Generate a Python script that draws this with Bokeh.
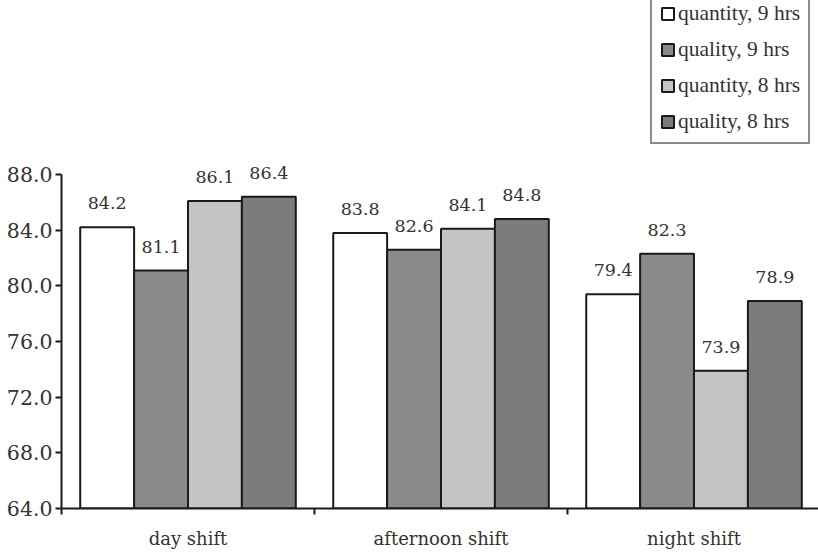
from bokeh.plotting import figure
from bokeh.models import ColumnDataSource, FixedTicker, Legend, LegendItem, Range1d, CustomJSTickFormatter
from bokeh.core.properties import value
from bokeh.embed import file_html
from bokeh.resources import INLINE

# Shift categories and the four series (percent scores)
shifts = ["day shift", "afternoon shift", "night shift"]
series_names = ["quantity, 9 hrs", "quality, 9 hrs", "quantity, 8 hrs", "quality, 8 hrs"]
quantity_9 = [84.2, 83.8, 79.4]
quality_9 = [81.1, 82.6, 82.3]
quantity_8 = [86.1, 84.1, 73.9]
quality_8 = [86.4, 84.8, 78.9]
y_ticks = [64.0, 68.0, 72.0, 76.0, 80.0, 84.0, 88.0]

series_values = [quantity_9, quality_9, quantity_8, quality_8]
fills = ["#ffffff", "#8a8a8a", "#c4c4c4", "#7c7c7c"]

AXIS_FONT = "DejaVu Serif"
LEGEND_FONT = "Liberation Serif"
TEXT = "#333333"
EDGE = "#1a1a1a"

bar_w = 0.213
offsets = [-1.5 * bar_w, -0.5 * bar_w, 0.5 * bar_w, 1.5 * bar_w]

# the frame reaches the top of the canvas so value labels and the legend
# above the 88.0 line stay visible; the y axis line stops at 88
p = figure(width=818, height=552, output_backend="svg", toolbar_location=None,
           x_range=Range1d(0, 2.992), y_range=Range1d(64, 100.5))
p.min_border_left = 61
p.min_border_right = 0
p.min_border_top = 0
p.min_border_bottom = 44
p.outline_line_color = None
p.grid.visible = False
p.background_fill_color = "white"
p.border_fill_color = "white"

items = []
for name, vals, fill, off in zip(series_names, series_values, fills, offsets):
    xs = [i + 0.5 + off for i in range(len(shifts))]
    src = ColumnDataSource(dict(x=xs, top=vals, label=[f"{v:.1f}" for v in vals]))
    r = p.vbar(x="x", top="top", bottom=64, width=bar_w, source=src,
               fill_color=fill, line_color=EDGE, line_width=2)
    p.text(x="x", y="top", text="label", source=src, text_align="center",
           text_baseline="middle", y_offset=-24, text_font_size="17.5px",
           text_color=TEXT, text_font=value(AXIS_FONT))
    items.append(LegendItem(label=name, renderers=[r]))

# x axis: category names at centres, short ticks at the boundaries
xa = p.xaxis[0]
xa.ticker = FixedTicker(ticks=[0.5, 1.5, 2.5], minor_ticks=[0, 1, 2])
xa.major_label_overrides = {0.5: shifts[0], 1.5: shifts[1], 2.5: shifts[2]}
xa.major_tick_out = 0
xa.major_tick_in = 0
xa.minor_tick_out = 6
xa.minor_tick_in = 0
xa.minor_tick_line_width = 2
xa.minor_tick_line_color = EDGE
xa.axis_line_width = 2
xa.axis_line_color = EDGE
xa.major_label_text_font = AXIS_FONT
xa.major_label_text_font_size = "18px"
xa.major_label_text_color = TEXT
xa.major_label_standoff = 13

ya = p.yaxis[0]
ya.bounds = (64, 88)
ya.ticker = FixedTicker(ticks=y_ticks)
ya.formatter = CustomJSTickFormatter(code="return tick.toFixed(1);")
ya.minor_tick_line_color = None
ya.major_tick_out = 6
ya.major_tick_in = 0
ya.major_tick_line_width = 2
ya.major_tick_line_color = EDGE
ya.axis_line_width = 2
ya.axis_line_color = EDGE
ya.major_label_text_font = AXIS_FONT
ya.major_label_text_font_size = "20.5px"
ya.major_label_text_color = TEXT
ya.major_label_standoff = 3

legend = Legend(items=items, location=(589, 364))
legend.label_text_font = LEGEND_FONT
legend.label_text_font_size = "21.5px"
legend.label_text_color = TEXT
legend.glyph_width = 15
legend.glyph_height = 15
legend.label_height = 20
legend.label_standoff = 3
legend.spacing = 11
legend.padding = 8
legend.margin = 0
legend.border_line_color = EDGE
legend.border_line_width = 2
legend.background_fill_alpha = 1
p.add_layout(legend, "center")

open("out.html", "w").write(file_html(p, INLINE))
